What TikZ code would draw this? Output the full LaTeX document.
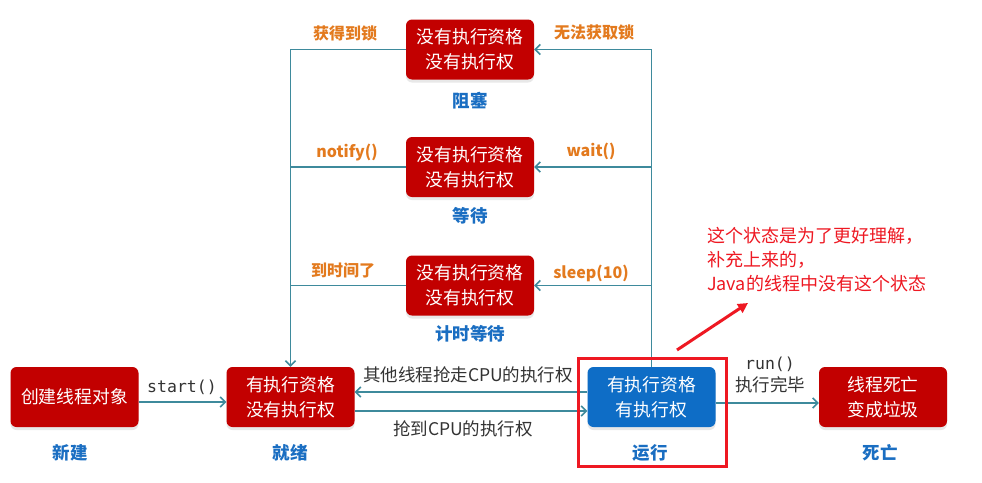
\documentclass[tikz,border=0pt]{standalone}
\usepackage{fontspec}
\setmainfont{Noto Sans CJK SC}
\setmonofont{DejaVu Sans Mono}
\usetikzlibrary{arrows.meta,shadows}
\definecolor{boxred}{HTML}{C20000}
\definecolor{boxblue}{HTML}{0E6DC6}
\definecolor{conncol}{HTML}{3E8A9C}
\definecolor{lblorange}{HTML}{E37A1E}
\definecolor{lblblue}{HTML}{1A6EC2}
\definecolor{annred}{HTML}{EE1822}
\tikzset{
  statebox/.style={fill=boxred, rounded corners=6pt, minimum width=128pt, minimum height=60pt,
    text=white, font=\fontsize{17.8}{25}\selectfont, align=center, inner sep=0pt,
    drop shadow={opacity=0.18, shadow xshift=0pt, shadow yshift=-3pt}},
  runbox/.style={statebox, fill=boxblue},
  statelbl/.style={text=lblblue, font=\bfseries\fontsize{17.5}{20}\selectfont},
  actlbl/.style={text=lblorange, font=\bfseries\fontsize{16}{19}\selectfont},
  plainlbl/.style={text=black!80, font=\fontsize{17.5}{21}\selectfont},
  monolbl/.style={text=black!80, font=\ttfamily\fontsize{16.5}{19}\selectfont},
  conn/.style={draw=conncol, line width=1.8pt, -{Straight Barb[length=5pt,width=10pt,line width=1.6pt]}},
  plainline/.style={draw=conncol, line width=1.8pt},
}
\begin{document}
\begin{tikzpicture}[x=1pt,y=-1pt]
\fill[white] (0,0) rectangle (982,482);
\useasboundingbox (0,0) rectangle (982,482);

% boxes
\node[statebox] (blk) at (470,49.5) {没有执行资格\\没有执行权};
\node[statebox] (wt) at (470,167) {没有执行资格\\没有执行权};
\node[statebox] (tw) at (470,285.5) {没有执行资格\\没有执行权};
\node[statebox] (nw) at (74.5,397) {创建线程对象};
\node[statebox] (rdy) at (290.5,397) {有执行资格\\没有执行权};
\node[runbox] (runn) at (651.5,397) {有执行资格\\有执行权};
\node[statebox] (dead) at (883,397) {线程死亡\\变成垃圾};

% state labels
\node[statelbl] (l1) at (470,101) {阻塞};
\node[statelbl] (l2) at (470,216) {等待};
\node[statelbl] (l3) at (470,334) {计时等待};
\node[statelbl] (l4) at (70,453) {新建};
\node[statelbl] (l5) at (290,453) {就绪};
\node[statelbl] (l6) at (650,453) {运行};
\node[statelbl] (l7) at (880,453) {死亡};

% left side connectors
\draw[conn] (blk.west) -| (rdy.north);
\draw[plainline] (wt.west) -- (wt.west -| rdy.north);
\draw[plainline] (tw.west) -- (tw.west -| rdy.north);

% right side connectors
\draw[plainline] (runn.north) -- (runn.north |- blk.east);
\draw[conn] (runn.north |- blk.east) -- (blk.east);
\draw[conn] (runn.north |- wt.east) -- (wt.east);
\draw[conn] (runn.north |- tw.east) -- (tw.east);

% action labels
\node[actlbl] (a1) at (345,33) {获得到锁};
\node[actlbl] (a2) at (594,32) {无法获取锁};
\node[actlbl] (a3) at (347,153) {notify()};
\node[actlbl] (a4) at (591,151) {wait()};
\node[actlbl] (a5) at (343,270) {到时间了};
\node[actlbl] (a6) at (591,273) {sleep(10)};

% bottom row connectors
\draw[conn] ([yshift=-5pt]nw.east) -- ([yshift=-5pt]rdy.west);
\node[monolbl] (s1) at (182,387) {start()};
\draw[conn] ([yshift=5pt]runn.west) -- ([yshift=5pt]rdy.east);
\node[plainlbl] (s2) at (468,375) {其他线程抢走CPU的执行权};
\draw[conn] ([yshift=-14pt]rdy.east) -- ([yshift=-14pt]runn.west);
\node[plainlbl] (s3) at (463,429) {抢到CPU的执行权};
\draw[conn] ([yshift=-6pt]runn.east) -- ([yshift=-6pt]dead.west);
\node[monolbl] (s4) at (770,364) {run()};
\node[plainlbl] (s5) at (770,385) {执行完毕};

% annotation
\draw[annred, line width=3pt] (578,358) rectangle (726,466);
\node[text=annred, anchor=north west, align=left, inner sep=0pt,
  font=\fontsize{18}{24}\selectfont] (note) at (707,227)
  {这个状态是为了更好理解，\\补充上来的，\\Java的线程中没有这个状态};
\coordinate (arrs) at (677,350);
\coordinate (arre) at (748,303);
\draw[annred, line width=3pt, -{Triangle[length=10pt,width=10pt]}] (arrs) -- (arre);
\end{tikzpicture}
\end{document}
